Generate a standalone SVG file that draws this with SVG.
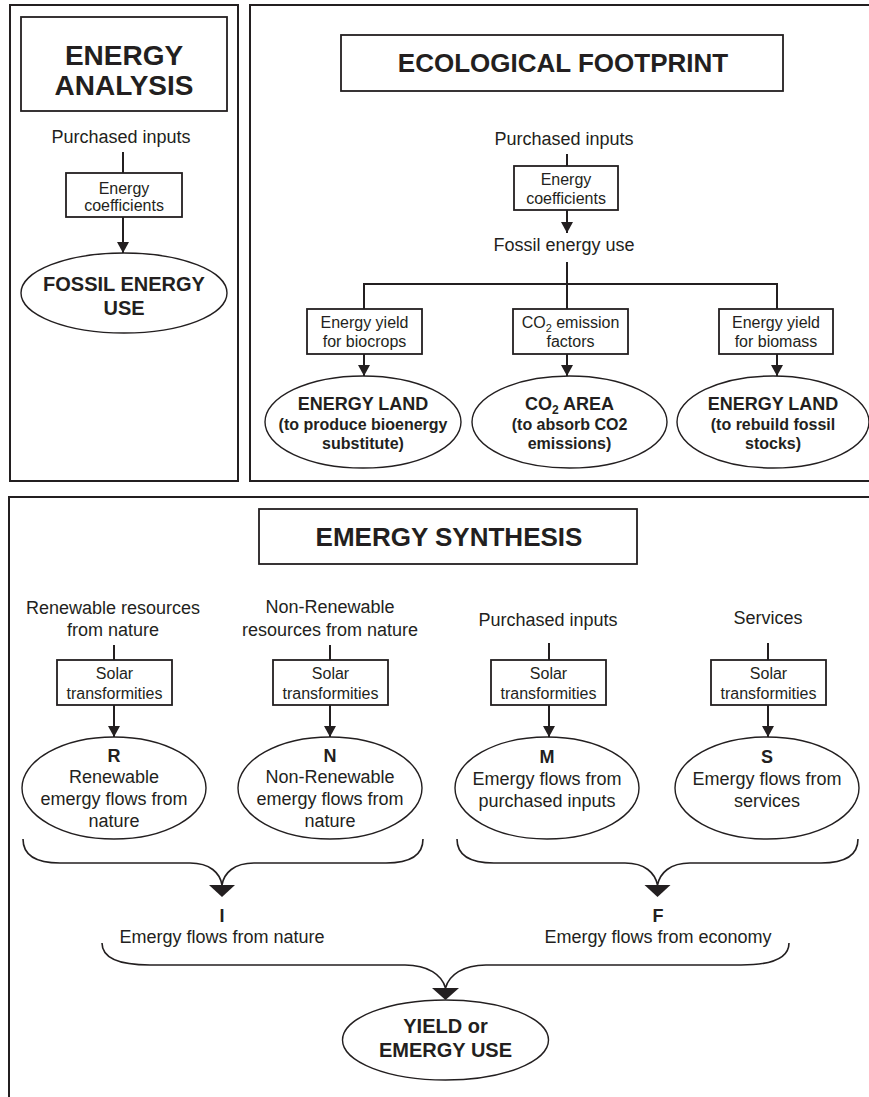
<svg xmlns="http://www.w3.org/2000/svg" width="869" height="1097" viewBox="0 0 869 1097">
<style>
.frame{fill:none;stroke:#231f20;stroke-width:2}
.box{fill:#fff;stroke:#231f20;stroke-width:1.8}
.ell{fill:#fff;stroke:#231f20;stroke-width:1.4}
.ln{fill:none;stroke:#231f20;stroke-width:2}
.br{fill:none;stroke:#231f20;stroke-width:1.6}
.ah{fill:#231f20;stroke:none}
text{font-family:"Liberation Sans",Arial,Helvetica,sans-serif;fill:#231f20;text-anchor:middle}
.r18{font-size:18px}
.r16{font-size:16px}
.b18{font-size:18px;font-weight:bold}
.b16{font-size:16px;font-weight:bold}
.b20{font-size:20px;font-weight:bold}
.b26{font-size:26px;font-weight:bold}
.b28{font-size:28px;font-weight:bold}
</style>
<defs>
<marker id="arr" viewBox="0 0 11 12" refX="11" refY="6" markerWidth="11" markerHeight="12" markerUnits="userSpaceOnUse" orient="auto">
<path d="M0,0 L11,6 L0,12 z" fill="#231f20"/>
</marker>
</defs>
<rect width="869" height="1097" fill="#fff"/>

<g id="panels">
<rect id="panel-energy-analysis" class="frame" x="10" y="5" width="228" height="476"/>
<rect id="panel-ecological-footprint" class="frame" x="250" y="5" width="640" height="476"/>
<rect id="panel-emergy-synthesis" class="frame" x="9" y="497" width="880" height="620"/>
</g>

<g id="connectors">
<!-- Energy analysis -->
<line class="ln" x1="123" y1="152" x2="123" y2="173"/>
<line class="ln" x1="123" y1="217" x2="123" y2="253" marker-end="url(#arr)"/>
<!-- Ecological footprint -->
<line class="ln" x1="567" y1="154" x2="567" y2="166"/>
<line class="ln" x1="567" y1="210" x2="567" y2="233" marker-end="url(#arr)"/>
<line class="ln" x1="567" y1="262" x2="567" y2="309"/>
<polyline class="ln" points="364,309 364,284 777,284 777,309"/>
<line class="ln" x1="364" y1="354" x2="364" y2="376" marker-end="url(#arr)"/>
<line class="ln" x1="567" y1="354" x2="567" y2="376" marker-end="url(#arr)"/>
<line class="ln" x1="777" y1="354" x2="777" y2="376" marker-end="url(#arr)"/>
<!-- Emergy synthesis -->
<line class="ln" x1="114" y1="645" x2="114" y2="660"/>
<line class="ln" x1="330" y1="645" x2="330" y2="660"/>
<line class="ln" x1="549" y1="643" x2="549" y2="660"/>
<line class="ln" x1="768" y1="643" x2="768" y2="660"/>
<line class="ln" x1="114" y1="705" x2="114" y2="737" marker-end="url(#arr)"/>
<line class="ln" x1="330" y1="705" x2="330" y2="737" marker-end="url(#arr)"/>
<line class="ln" x1="549" y1="705" x2="549" y2="737" marker-end="url(#arr)"/>
<line class="ln" x1="768" y1="705" x2="768" y2="737" marker-end="url(#arr)"/>
<path class="br" d="M23,839 C23,856 36,863 60,863 L190,863 C210,863 220,873 222,885 C224,873 234,863 254,863 L386,863 C410,863 423,856 423,839"/>
<polygon class="ah" points="209,885 235,885 222,897"/>
<path class="br" d="M457,839 C457,856 470,863 494,863 L625,863 C645,863 655,873 657.5,885 C660,873 670,863 690,863 L821,863 C845,863 858,856 858,839"/>
<polygon class="ah" points="644.5,885 670.5,885 657.5,897"/>
<path class="br" d="M102,943 C102,958 120,965 150,965 L405,965 C428,965 442,975 445.5,988 C449,975 463,965 486,965 L741,965 C771,965 789,958 789,943"/>
<polygon class="ah" points="432,988 459,988 445.5,1000"/>
</g>

<!-- ENERGY ANALYSIS -->
<g id="ea-title">
<rect class="box" x="21" y="17" width="206" height="94"/>
<text class="b28" x="124" y="65">ENERGY</text>
<text class="b28" x="124" y="95">ANALYSIS</text>
</g>
<g id="ea-purchased"><text class="r18" x="121" y="143">Purchased inputs</text></g>
<g id="ea-coeff">
<rect class="box" x="66" y="173" width="116" height="44"/>
<text class="r16" x="124" y="194">Energy</text>
<text class="r16" x="124" y="211">coefficients</text>
</g>
<g id="ea-fossil">
<ellipse class="ell" cx="124" cy="293" rx="103" ry="40"/>
<text class="b20" x="124" y="291">FOSSIL ENERGY</text>
<text class="b20" x="124" y="315">USE</text>
</g>

<!-- ECOLOGICAL FOOTPRINT -->
<g id="ef-title">
<rect class="box" x="341" y="35" width="442" height="56"/>
<text class="b26" x="563" y="72">ECOLOGICAL FOOTPRINT</text>
</g>
<g id="ef-purchased"><text class="r18" x="564" y="145">Purchased inputs</text></g>
<g id="ef-coeff">
<rect class="box" x="514" y="166" width="104" height="44"/>
<text class="r16" x="566" y="185">Energy</text>
<text class="r16" x="566" y="204">coefficients</text>
</g>
<g id="ef-fossil"><text class="r18" x="564" y="251">Fossil energy use</text></g>
<g id="ef-yield-biocrops">
<rect class="box" x="307" y="309" width="115" height="45"/>
<text class="r16" x="364.5" y="328">Energy yield</text>
<text class="r16" x="364.5" y="347">for biocrops</text>
</g>
<g id="ef-co2-factors">
<rect class="box" x="513" y="309" width="115" height="45"/>
<text class="r16" x="570.5" y="328">CO<tspan font-size="11" dy="4">2</tspan><tspan dy="-4"> emission</tspan></text>
<text class="r16" x="570.5" y="347">factors</text>
</g>
<g id="ef-yield-biomass">
<rect class="box" x="719" y="309" width="114" height="45"/>
<text class="r16" x="776" y="328">Energy yield</text>
<text class="r16" x="776" y="347">for biomass</text>
</g>
<g id="ef-energy-land-1">
<ellipse class="ell" cx="363" cy="422" rx="98" ry="46"/>
<text class="b18" x="363" y="410">ENERGY LAND</text>
<text class="b16" x="363" y="430">(to produce bioenergy</text>
<text class="b16" x="363" y="449">substitute)</text>
</g>
<g id="ef-co2-area">
<ellipse class="ell" cx="569.5" cy="422" rx="97.5" ry="46"/>
<text class="b18" x="569.5" y="410">CO<tspan font-size="12" dy="4">2</tspan><tspan dy="-4"> AREA</tspan></text>
<text class="b16" x="569.5" y="430">(to absorb CO2</text>
<text class="b16" x="569.5" y="449">emissions)</text>
</g>
<g id="ef-energy-land-2">
<ellipse class="ell" cx="773" cy="422" rx="96" ry="46"/>
<text class="b18" x="773" y="410">ENERGY LAND</text>
<text class="b16" x="773" y="430">(to rebuild fossil</text>
<text class="b16" x="773" y="449">stocks)</text>
</g>

<!-- EMERGY SYNTHESIS -->
<g id="es-title">
<rect class="box" x="259" y="509" width="378" height="55"/>
<text class="b26" x="449" y="546">EMERGY SYNTHESIS</text>
</g>
<g id="es-renewable-src">
<text class="r18" x="113" y="614">Renewable resources</text>
<text class="r18" x="113" y="636">from nature</text>
</g>
<g id="es-nonrenewable-src">
<text class="r18" x="330" y="613">Non-Renewable</text>
<text class="r18" x="330" y="636">resources from nature</text>
</g>
<g id="es-purchased-src"><text class="r18" x="548" y="626">Purchased inputs</text></g>
<g id="es-services-src"><text class="r18" x="768" y="624">Services</text></g>

<g id="es-solar-r">
<rect class="box" x="57" y="660" width="115" height="45"/>
<text class="r16" x="114.5" y="679">Solar</text>
<text class="r16" x="114.5" y="699">transformities</text>
</g>
<g id="es-solar-n">
<rect class="box" x="273" y="660" width="115" height="45"/>
<text class="r16" x="330.5" y="679">Solar</text>
<text class="r16" x="330.5" y="699">transformities</text>
</g>
<g id="es-solar-m">
<rect class="box" x="491" y="660" width="115" height="45"/>
<text class="r16" x="548.5" y="679">Solar</text>
<text class="r16" x="548.5" y="699">transformities</text>
</g>
<g id="es-solar-s">
<rect class="box" x="711" y="660" width="115" height="45"/>
<text class="r16" x="768.5" y="679">Solar</text>
<text class="r16" x="768.5" y="699">transformities</text>
</g>

<g id="es-R">
<ellipse class="ell" cx="114" cy="788" rx="92" ry="51"/>
<text class="b18" x="114" y="762">R</text>
<text class="r18" x="114" y="783">Renewable</text>
<text class="r18" x="114" y="805">emergy flows from</text>
<text class="r18" x="114" y="827">nature</text>
</g>
<g id="es-N">
<ellipse class="ell" cx="330" cy="788" rx="92" ry="51"/>
<text class="b18" x="330" y="762">N</text>
<text class="r18" x="330" y="783">Non-Renewable</text>
<text class="r18" x="330" y="805">emergy flows from</text>
<text class="r18" x="330" y="827">nature</text>
</g>
<g id="es-M">
<ellipse class="ell" cx="547" cy="788" rx="92" ry="51"/>
<text class="b18" x="547" y="763">M</text>
<text class="r18" x="547" y="785">Emergy flows from</text>
<text class="r18" x="547" y="807">purchased inputs</text>
</g>
<g id="es-S">
<ellipse class="ell" cx="767" cy="788" rx="92" ry="51"/>
<text class="b18" x="767" y="763">S</text>
<text class="r18" x="767" y="785">Emergy flows from</text>
<text class="r18" x="767" y="807">services</text>
</g>

<g id="es-I">
<text class="b18" x="222" y="922">I</text>
<text class="r18" x="222" y="943">Emergy flows from nature</text>
</g>
<g id="es-F">
<text class="b18" x="658" y="922">F</text>
<text class="r18" x="658" y="943">Emergy flows from economy</text>
</g>
<g id="es-yield">
<ellipse class="ell" cx="445.5" cy="1040" rx="103" ry="40"/>
<text class="b20" x="445.5" y="1033">YIELD or</text>
<text class="b20" x="445.5" y="1057">EMERGY USE</text>
</g>
</svg>
